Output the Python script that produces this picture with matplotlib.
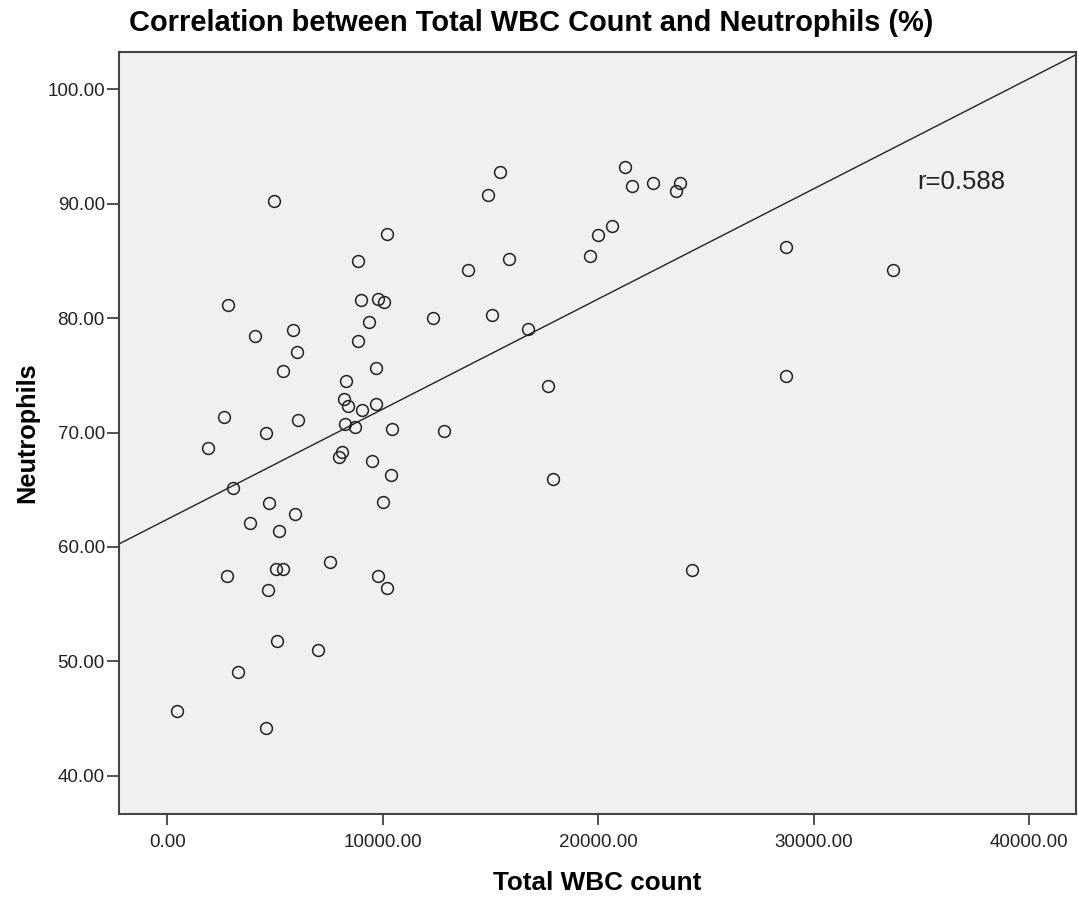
import numpy as np
import matplotlib
matplotlib.use("Agg")
import matplotlib.pyplot as plt

# === Data ===
wbc = [4930, 10214, 8868, 2803, 8978, 9767, 10075, 9349, 12350, 4071,
       5821, 6021, 8839, 5357, 9703, 8310, 8189, 8403, 9053, 9703,
       2646, 6068, 8250, 8714, 10432, 4582, 1875, 8110, 7957, 9489,
       10400, 3036, 4707, 9999, 5943, 3825, 5201, 7568, 5061, 5371,
       2757, 9782, 4660, 10186, 5093, 7011, 3267, 450, 4596,
       15431, 14874, 21263, 21560, 22563, 23816, 23602, 20659, 19995, 19624,
       15849, 13974, 15088, 16746, 17674, 12846, 17906,
       28723, 33705, 28723, 24350]
neutrophils = [90.26, 87.35, 84.96, 81.17, 81.56, 81.67, 81.43, 79.66, 79.98, 78.46,
               78.96, 77.06, 77.97, 75.38, 75.66, 74.50, 72.90, 72.34, 71.99, 72.46,
               71.38, 71.09, 70.72, 70.45, 70.28, 69.98, 68.67, 68.32, 67.89, 67.54,
               66.26, 65.15, 63.86, 63.95, 62.85, 62.06, 61.36, 58.65, 58.07, 58.07,
               57.46, 57.46, 56.23, 56.38, 51.75, 50.96, 49.06, 45.63, 44.14,
               92.80, 90.79, 93.18, 91.57, 91.78, 91.84, 91.14, 88.08, 87.26, 85.46,
               85.19, 84.18, 80.27, 79.05, 74.09, 70.16, 65.96,
               86.19, 84.18, 74.97, 58.00]

x_ticks = [0, 10000, 20000, 30000, 40000]
y_ticks = [40, 50, 60, 70, 80, 90, 100]
r_label = "r=0.588"

plt.rcParams["font.family"] = ["Liberation Sans", "DejaVu Sans"]

fig = plt.figure(figsize=(10.79, 9.01), dpi=100)
ax = fig.add_axes([0.1106, 0.0971, 0.8866, 0.8455])
ax.set_facecolor("#f0f0f0")

# === Scatter ===
ax.plot(wbc, neutrophils, linestyle="none", marker="o", markersize=8.5,
        markerfacecolor="none", markeredgecolor="#222222", markeredgewidth=1.1)

# === Fit line ===
xlim = (-2228, 42186)
ylim = (36.70, 103.29)
slope, intercept = np.polyfit(wbc, neutrophils, 1)
xs = np.array(xlim)
ax.plot(xs, intercept + slope * xs, color="#222222", linewidth=1.0)

ax.text(34805, 91.9, r_label, fontsize=18.5, color="#222222", va="center", ha="left")

ax.set_xlim(*xlim)
ax.set_ylim(*ylim)
ax.set_xticks(x_ticks)
ax.set_yticks(y_ticks)
ax.set_xticklabels([f"{v:.2f}" for v in x_ticks])
ax.set_yticklabels([f"{v:.2f}" for v in y_ticks])
ax.tick_params(axis="x", direction="out", length=8, width=1.2, pad=6.5,
               labelsize=13.5, color="#333333", labelcolor="#222222")
ax.tick_params(axis="y", direction="out", length=9, width=1.2, pad=1.5,
               labelsize=13.5, color="#333333", labelcolor="#222222")
for s in ax.spines.values():
    s.set_color("#444444")
    s.set_linewidth(1.5)

ax.set_xlabel("Total WBC count", fontsize=18.8, fontweight="bold")
ax.xaxis.set_label_coords(0.5, -0.091)
ax.xaxis.label.set_va("center")
ax.set_ylabel("Neutrophils", fontsize=18.3, fontweight="bold")
ax.yaxis.set_label_coords(-0.0965, 0.5)
ax.yaxis.label.set_va("center")

fig.text(0.492, 0.975, "Correlation between Total WBC Count and Neutrophils (%)",
         fontsize=20.9, fontweight="bold", ha="center", va="center")

fig.savefig("out.png", dpi=100)
